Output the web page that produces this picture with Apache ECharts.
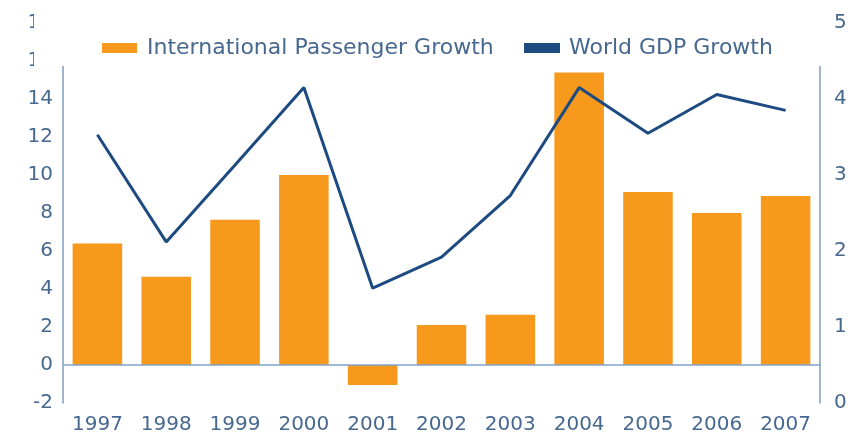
<!DOCTYPE html>
<html>
<head>
<meta charset="utf-8">
<script src="https://cdn.jsdelivr.net/npm/echarts@6/dist/echarts.min.js"></script>
<style>
html,body{margin:0;padding:0;background:#fff;}
#c{width:858px;height:444px;}
</style>
</head>
<body>
<div id="c"></div>
<script>
var years = ['1997','1998','1999','2000','2001','2002','2003','2004','2005','2006','2007'];
var passengerGrowth = [6.4, 4.65, 7.65, 10.0, -1.05, 2.1, 2.65, 15.4, 9.1, 8.0, 8.9];
var gdpGrowth = [3.53, 2.12, 3.13, 4.15, 1.51, 1.92, 2.73, 4.15, 3.55, 4.06, 3.85];
var seriesNames = ['International Passenger Growth', 'World GDP Growth'];

var textColor = '#47688F';
var axisColor = '#7F9CBE';
var font = 'DejaVu Sans';

var chart = echarts.init(document.getElementById('c'), null, {renderer: 'canvas'});
chart.setOption({
  animation: false,
  backgroundColor: '#ffffff',
  grid: {left: 63, right: 38, top: 23, bottom: 41, containLabel: false},
  legend: [
    {
      data: [{name: seriesNames[0], icon: 'rect'}],
      left: 97, top: 32, z: 20,
      itemWidth: 35, itemHeight: 10,
      textStyle: {color: textColor, fontSize: 22, fontFamily: font, padding: [0,0,0,5]},
      selectedMode: false
    },
    {
      data: [{name: seriesNames[1], icon: 'rect'}],
      left: 519, top: 32, z: 20,
      itemWidth: 36, itemHeight: 10,
      textStyle: {color: textColor, fontSize: 22, fontFamily: font, padding: [0,0,0,4]},
      selectedMode: false
    }
  ],
  graphic: [
    {type: 'rect', z: 10, shape: {x: 34, y: 14, width: 796, height: 52}, style: {fill: '#ffffff'}, silent: true}
  ],
  xAxis: {
    type: 'category',
    data: years,
    axisLine: {show: false},
    axisTick: {show: false},
    axisLabel: {color: textColor, fontSize: 20, fontFamily: font, margin: 12},
    splitLine: {show: false}
  },
  yAxis: [
    {
      type: 'value', min: -2, max: 18, interval: 2,
      axisLine: {show: true, lineStyle: {color: axisColor, width: 1.5}},
      axisTick: {show: false},
      splitLine: {show: false},
      axisLabel: {color: textColor, fontSize: 20, fontFamily: font, margin: 10}
    },
    {
      type: 'value', min: 0, max: 5, interval: 1,
      position: 'right',
      axisLine: {show: true, lineStyle: {color: axisColor, width: 1.5}},
      axisTick: {show: false},
      splitLine: {show: false},
      axisLabel: {color: textColor, fontSize: 20, fontFamily: font, margin: 14}
    }
  ],
  series: [
    {
      name: seriesNames[0],
      type: 'bar',
      yAxisIndex: 0,
      data: passengerGrowth,
      barWidth: '72%',
      itemStyle: {color: '#F7991C'},
      markLine: {
        silent: true,
        symbol: 'none',
        label: {show: false},
        lineStyle: {color: '#7FA3CC', width: 1.5, type: 'solid'},
        data: [{yAxis: 0}]
      }
    },
    {
      name: seriesNames[1],
      type: 'line',
      yAxisIndex: 1,
      data: gdpGrowth,
      symbol: 'none',
      lineStyle: {color: '#1D4A80', width: 3},
      itemStyle: {color: '#1D4A80'},
      z: 5
    }
  ]
});
</script>
</body>
</html>
